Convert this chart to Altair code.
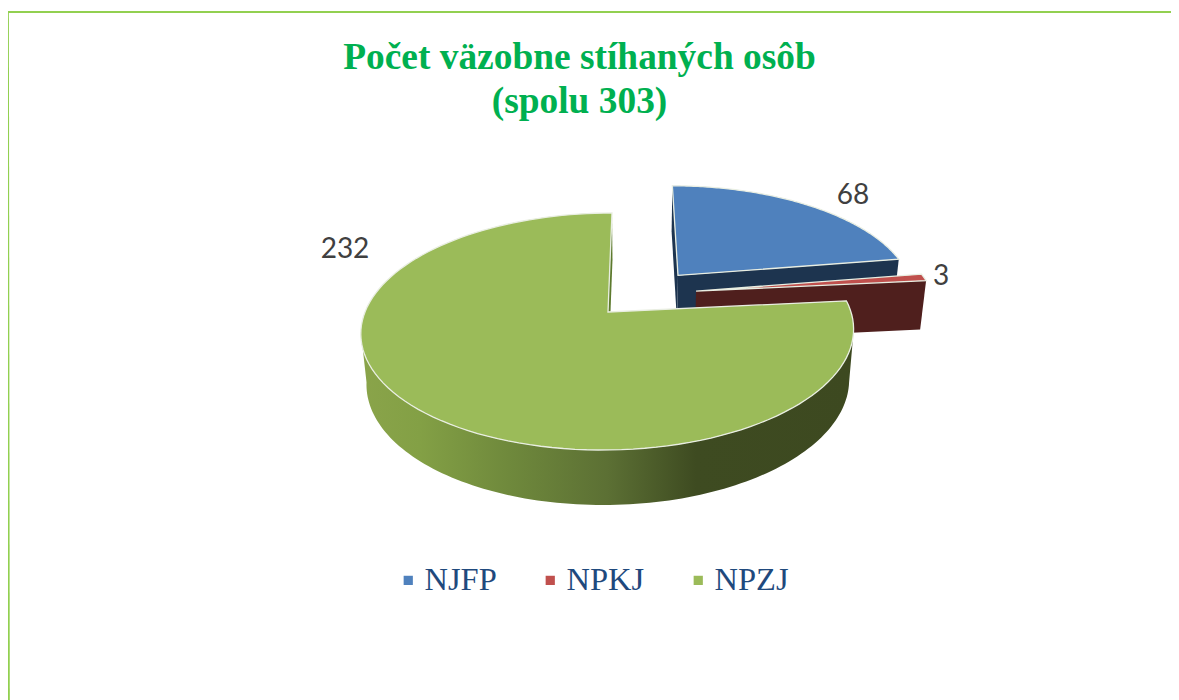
import math
import altair as alt
import pandas as pd

categories = ["NJFP", "NPKJ", "NPZJ"]
values = [68, 3, 232]
title_lines = ["Počet väzobne stíhaných osôb", "(spolu 303)"]
colors = ["#4f81bd", "#c0504d", "#9bbb59"]
wall_colors = ["#1d344f", "#4f1f1d", "#5d7a2e"]
label_x = [853, 941, 345]
label_y = [195.5, 276.5, 249.5]
offsets = [(0.2975, 0.335), (0.37, 0.187), (0.0, 0.0)]

W, H = 1163, 692
K = 0.1646
PX, U0 = 636.3, 0.1165
TOP = (243.0, 312.0, 115.3)
BOT = (238.0, 362.0, 119.5)


def project(u, v, plane):
    a, py, b = plane
    w = 1 + K * v
    return PX + a * (u - U0) / w, py - b * v / w


def rim(i, t, plane):
    du, dv = offsets[i]
    return project(du + math.sin(t), dv + math.cos(t), plane)


def apex(i, plane):
    return project(offsets[i][0], offsets[i][1], plane)


total = sum(values)
edges = [0.0]
for val in values:
    edges.append(edges[-1] + val / total * 2 * math.pi)


def arc(i, t0, t1, plane, n=120):
    return [rim(i, t0 + (t1 - t0) * k / n, plane) for k in range(n + 1)]


def frame(points, cat=None):
    df = pd.DataFrame(points, columns=["x", "y"])
    df["i"] = range(len(df))
    if cat:
        df["category"] = cat
    return df


xs = alt.Scale(domain=[8, 8 + W], range=[0, W], nice=False, zero=False)
ys = alt.Scale(domain=[8, 8 + H], range=[0, H], nice=False, zero=False)
X = alt.X("x:Q", scale=xs, axis=None)
Y = alt.Y("y:Q", scale=ys, axis=None)


def wall(points, fill):
    return alt.Chart(frame(points)).mark_line(
        interpolate="linear-closed", fill=fill, stroke=None, strokeWidth=0, clip=False
    ).encode(x=X, y=Y, order=alt.Order("i:Q"))


def face(i):
    pts = [apex(i, TOP)] + arc(i, edges[i], edges[i + 1], TOP)
    return alt.Chart(frame(pts, categories[i])).mark_line(
        interpolate="linear-closed", stroke="#e9eee2", strokeWidth=1.3
    ).encode(
        x=X, y=Y, order=alt.Order("i:Q"),
        fill=alt.Fill(
            "category:N",
            scale=alt.Scale(domain=categories, range=colors),
            legend=alt.Legend(
                title=None, orient="none", direction="horizontal",
                legendX=384, legendY=556, symbolType="square", symbolSize=85,
                symbolStrokeWidth=0, symbolOpacity=1, labelFont="Liberation Serif", labelFontSize=32.5,
                labelColor="#1f497d", labelOffset=0, columnPadding=37, labelLimit=200,
            ),
        ),
    )


def inner(i, t):
    return [apex(i, TOP), rim(i, t, TOP), rim(i, t, BOT), apex(i, BOT)]


green_grad = alt.Gradient(
    gradient="linear", x1=0, x2=1, y1=0, y2=0,
    stops=[
        alt.GradientStop(color="#8aa44a", offset=0.0),
        alt.GradientStop(color="#83a045", offset=0.12),
        alt.GradientStop(color="#6f893c", offset=0.3),
        alt.GradientStop(color="#5c7034", offset=0.5),
        alt.GradientStop(color="#3e4b21", offset=0.68),
        alt.GradientStop(color="#3d4920", offset=1.0),
    ],
)

# the wall runs between the two silhouette points of the rim, where cos t = -K
side = math.acos(-K)
outer_top = arc(2, side, 2 * math.pi - side, TOP)
outer_bot = arc(2, side, 2 * math.pi - side, BOT)

border = pd.DataFrame({"x": [8, 8], "x2": [1171, 8.9], "y": [12, 12], "y2": [12, 700]})
frame_lines = alt.Chart(border).mark_rule(color="#92d050", strokeWidth=1.8).encode(
    x=alt.X("x:Q", scale=xs, axis=None), x2="x2:Q",
    y=alt.Y("y:Q", scale=ys, axis=None), y2="y2:Q",
)

labels = pd.DataFrame({"x": label_x, "y": label_y, "v": [str(v) for v in values]})
text = alt.Chart(labels).mark_text(font="Lato", fontSize=28, color="#404040", align="center", baseline="middle").encode(
    x=X, y=Y, text="v:N"
)

chart = alt.layer(
    frame_lines,
    wall(inner(0, edges[0]), wall_colors[0]),
    wall(inner(0, edges[1]), wall_colors[0]),
    face(0),
    wall(inner(1, edges[2]), wall_colors[1]),
    face(1),
    wall(inner(2, edges[3]), wall_colors[2]),
    wall(outer_top + outer_bot[::-1], green_grad),
    face(2),
    text,
).properties(
    width=W,
    height=H,
    padding=0,
    background="white",
    autosize=alt.AutoSizeParams(type="none"),
    title=alt.TitleParams(
        text=title_lines, font="Liberation Serif", fontSize=37.4, fontWeight="bold",
        color="#00b050", anchor="middle", frame="group", offset=-112.5, lineHeight=44, dx=-10,
    ),
).configure_view(strokeWidth=0)

chart.save("out.html", embed_options={"renderer": "svg", "actions": False})
